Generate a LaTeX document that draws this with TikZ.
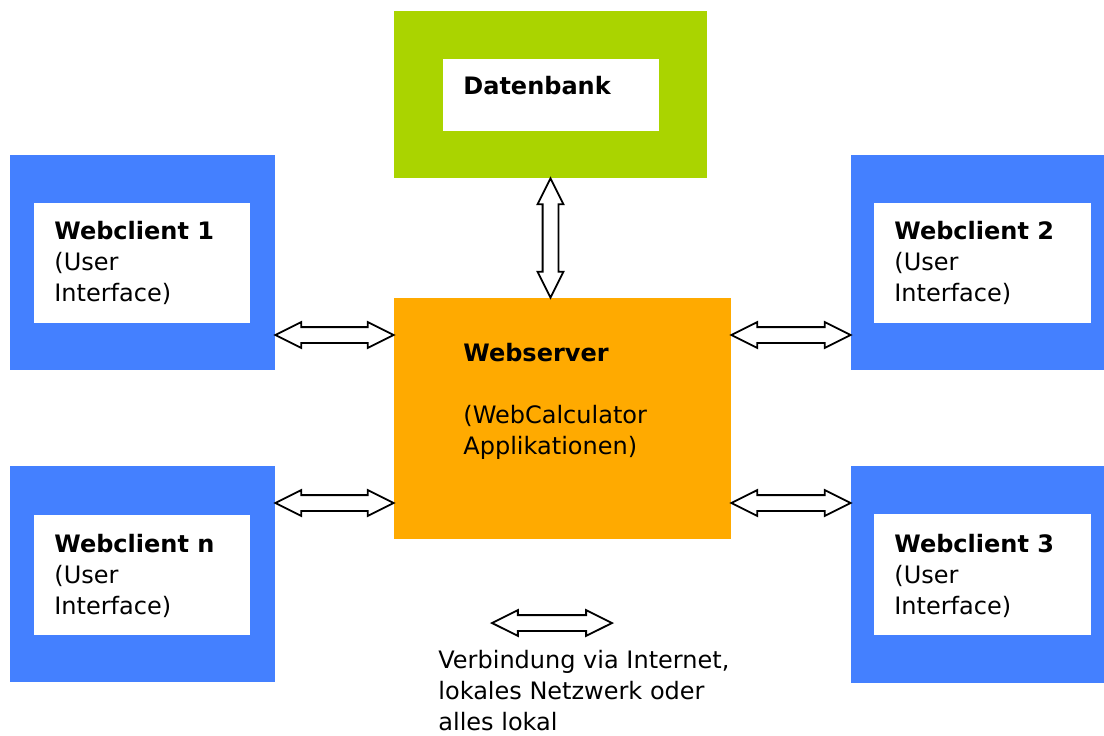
\documentclass[tikz,border=0pt]{standalone}
\usepackage{fontspec}
\setmainfont{DejaVu Sans}
\usetikzlibrary{calc,shapes.arrows}

\definecolor{clientblue}{RGB}{68,128,255}
\definecolor{dbgreen}{RGB}{170,212,0}
\definecolor{serverorange}{RGB}{255,170,0}

\tikzset{
  frame/.style={rectangle, draw=none, inner sep=0pt},
  pane/.style={rectangle, fill=white, draw=none, inner sep=0pt},
  % base west = baseline of the last line
  boxtext/.style={anchor=base west, inner sep=0pt, align=left, font=\fontsize{12}{15.5}\selectfont},
  link/.style={to path={
    let \p1=(\tikztostart), \p2=(\tikztotarget),
        \n1={veclen(\x2-\x1,\y2-\y1)}, \n2={atan2(\y2-\y1,\x2-\x1)}
    in node[double arrow, draw=black, fill=white, line width=0.9pt,
            inner sep=3.5pt, double arrow head extend=2.5pt,
            double arrow tip angle=53, minimum height=\n1, rotate=\n2]
       at ($(\p1)!0.5!(\p2)$) {}
  }}
}

\begin{document}
\begin{tikzpicture}[x=0.5pt,y=-0.5pt]
	\useasboundingbox (0,0) rectangle (1104,735);

	% Datenbank
	\node[frame, fill=dbgreen, minimum width=156.5pt, minimum height=83.5pt] (dbframe) at (550.5,94.5) {};
	\node[pane, minimum width=108pt, minimum height=36pt] (dbpane) at (551,95) {};
	\node[boxtext] (dbtext) at (463,94) {\textbf{Datenbank}};

	% Webserver
	\node[frame, fill=serverorange, minimum width=168.5pt, minimum height=120.5pt] (srv) at (562.5,418.5) {};
	\node[boxtext] (srvtext) at (463,454) {\textbf{Webserver}\\~\\(WebCalculator\\Applikationen)};

	% Webclients
	\node[frame, fill=clientblue, minimum width=132.5pt, minimum height=107.5pt] (wc1) at (142.5,262.5) {};
	\node[pane, minimum width=108pt, minimum height=60pt] (wc1pane) at (142,263) {};
	\node[boxtext] (wc1text) at (54,301) {\textbf{Webclient 1}\\(User\\Interface)};

	\node[frame, fill=clientblue, minimum width=132.5pt, minimum height=108pt] (wcn) at (142.5,574) {};
	\node[pane, minimum width=108pt, minimum height=60pt] (wcnpane) at (142,575) {};
	\node[boxtext] (wcntext) at (54,614) {\textbf{Webclient n}\\(User\\Interface)};

	\node[frame, fill=clientblue, minimum width=126.5pt, minimum height=107.5pt] (wc2) at (977.5,262.5) {};
	\node[pane, minimum width=108.5pt, minimum height=60pt] (wc2pane) at (982.5,263) {};
	\node[boxtext] (wc2text) at (894,301) {\textbf{Webclient 2}\\(User\\Interface)};

	\node[frame, fill=clientblue, minimum width=126.5pt, minimum height=108.5pt] (wc3) at (977.5,574.5) {};
	\node[pane, minimum width=108.5pt, minimum height=60.5pt] (wc3pane) at (982.5,574.5) {};
	\node[boxtext] (wc3text) at (894,614) {\textbf{Webclient 3}\\(User\\Interface)};

	% Verbindungen
	\path (dbframe.south) edge[link] (dbframe.south |- srv.north);
	\path (wc1.east |- 0,335) edge[link] (srv.west |- 0,335);
	\path (wcn.east |- 0,503) edge[link] (srv.west |- 0,503);
	\path (srv.east |- 0,335) edge[link] (wc2.west |- 0,335);
	\path (srv.east |- 0,503) edge[link] (wc3.west |- 0,503);

	% Legende
	\coordinate (legleft) at (492,623);
	\coordinate (legright) at (612,623);
	\path (legleft) edge[link] (legright);
	\node[boxtext] (legtext) at (438,730) {Verbindung via Internet,\\lokales Netzwerk oder\\alles lokal};
\end{tikzpicture}
\end{document}
